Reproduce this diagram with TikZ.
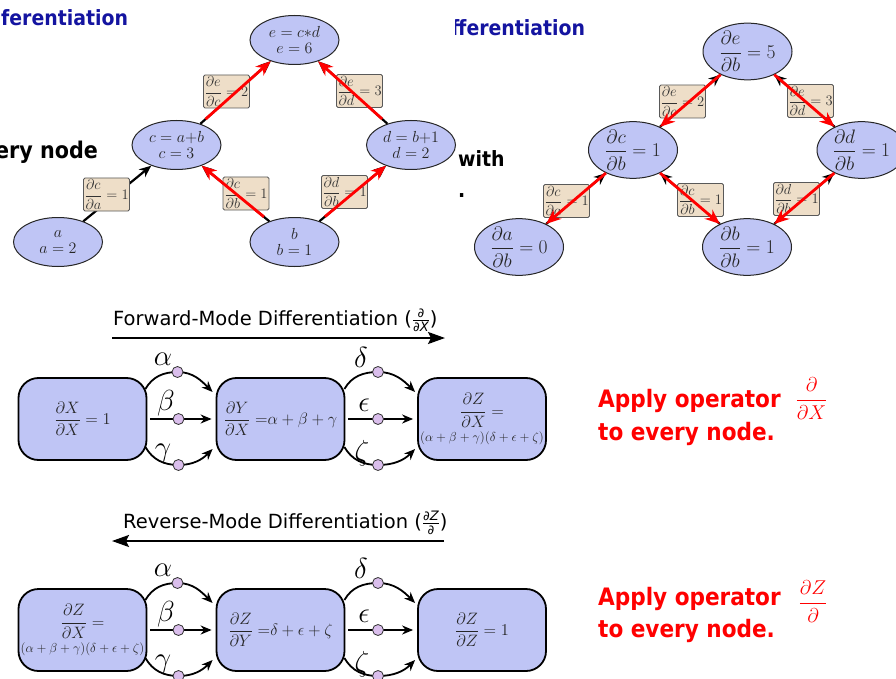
\RequirePackage{fix-cm}
\documentclass[tikz,border=0pt]{standalone}
\usepackage{amsmath}
\usepackage{fontspec}
\setmainfont{DejaVu Sans}
\newfontfamily\condfont{DejaVu Sans Condensed}
\usetikzlibrary{arrows.meta,shapes.geometric,calc}
\definecolor{nodeblue}{RGB}{191,197,245}
\definecolor{circpurple}{RGB}{218,190,236}
\definecolor{labtan}{RGB}{238,222,200}
\definecolor{titleblue}{RGB}{20,20,160}
\newcommand\tfr[1]{\text{\fontsize{13}{13}\selectfont\itshape #1}}
\begin{document}
\begin{tikzpicture}[x=1pt,y=1pt,
  ell/.style={ellipse, draw=black!85, line width=1pt, fill=nodeblue, minimum width=89pt, minimum height=49pt, inner sep=0pt, align=center, text=black!85, font=\fontsize{16}{16}\selectfont},
  ellr/.style={ell, font=\fontsize{19.5}{20}\selectfont},
  lab/.style={rectangle, rounded corners=1.5pt, draw=black!65, line width=0.9pt, fill=labtan, minimum width=46pt, minimum height=33pt, inner sep=0pt, text=black!80, font=\fontsize{14.5}{15}\selectfont},
  barr/.style={-{Stealth[length=12pt,width=10pt]}, line width=2.2pt, black},
  rarr/.style={-{Stealth[length=15pt,width=12pt]}, line width=2.8pt, red},
  mbox/.style={rectangle, rounded corners=20pt, draw=black, line width=1.8pt, fill=nodeblue, minimum width=128pt, minimum height=82pt, inner sep=0pt, align=center, text=black!85, font=\fontsize{16.5}{19}\selectfont},
  dotc/.style={circle, draw=black!80, line width=0.8pt, fill=circpurple, minimum size=11pt, inner sep=0pt},
  conn/.style={-{Stealth[length=11pt,width=9pt]}, line width=1.8pt},
  greek/.style={inner sep=0pt, font=\fontsize{29}{30}\selectfont},
  bigarr/.style={-{Stealth[length=17pt,width=12pt,inset=3pt]}, line width=2.2pt},
  frag/.style={inner sep=0pt, font=\condfont\bfseries\fontsize{21}{24}\selectfont},
  redt/.style={inner sep=0pt, text=red, font=\condfont\bfseries\fontsize{24}{26}\selectfont},
  ttl/.style={inner sep=0pt, font=\fontsize{19.5}{22}\selectfont}
]
\useasboundingbox (0,0) rectangle (896,-679);
\fill[white] (0,0) rectangle (896,-679);

% ---- cropped slide text fragments ----
\node[frag, text=titleblue, anchor=base west] (t1) at (1,-26) {ferentiation};
\begin{scope}
  \clip (455,0) rectangle (896,-60);
  \node[frag, text=titleblue, anchor=base west] (t2) at (451,-36) {fferentiation};
\end{scope}
\node[frag, font=\condfont\bfseries\fontsize{23}{24}\selectfont, anchor=base west] (t3) at (-5,-159) {ery node};
\node[frag, anchor=base west] (t4) at (458,-167) {with};
\node[frag, anchor=base west] (t5) at (458,-197) {.};

% ---- top-left graph ----
\node[ell] (e) at (294.5,-40) {$e=c{*}d$\\$e=6$};
\node[ell] (c) at (176.5,-145) {$c=a{+}b$\\$c=3$};
\node[ell] (d) at (411,-145) {$d=b{+}1$\\$d=2$};
\node[ell] (a) at (58,-242) {$a$\\$a=2$};
\node[ell] (b) at (294.5,-242) {$b$\\$b=1$};

\draw[barr] (a) -- (c);
\draw[barr] (b) -- (c);
\draw[barr] (b) -- (d);
\draw[barr] (c) -- (e);
\draw[barr] (d) -- (e);

\node[lab] (lca) at (106.5,-194.5) {$\dfrac{\partial c}{\partial a}=1$};
\node[lab] (lec) at (226.5,-91.5) {$\dfrac{\partial e}{\partial c}=2$};
\node[lab] (led) at (359.5,-91) {$\dfrac{\partial e}{\partial d}=3$};
\node[lab] (lcb) at (246,-193.5) {$\dfrac{\partial c}{\partial b}=1$};
\node[lab] (ldb) at (344.5,-192) {$\dfrac{\partial d}{\partial b}=1$};

\draw[rarr, shorten <=7pt] (b) -- (c);
\draw[rarr, shorten <=7pt] (b) -- (d);
\draw[rarr, shorten <=7pt] (c) -- (e);
\draw[rarr, shorten <=7pt] (d) -- (e);

% ---- top-right graph ----
\node[ellr] (E) at (747.5,-51.5) {$\dfrac{\partial e}{\partial b}=5$};
\node[ellr] (C) at (633,-150) {$\dfrac{\partial c}{\partial b}=1$};
\node[ellr] (D) at (861.5,-150) {$\dfrac{\partial d}{\partial b}=1$};
\node[ellr] (A) at (519,-247) {$\dfrac{\partial a}{\partial b}=0$};
\node[ellr] (B) at (747,-247) {$\dfrac{\partial b}{\partial b}=1$};

\draw[barr] (A) -- (C);
\draw[barr] (B) -- (C);
\draw[barr] (B) -- (D);
\draw[barr] (C) -- (E);
\draw[barr] (D) -- (E);

\node[lab] (Lec) at (682.5,-101.5) {$\dfrac{\partial e}{\partial c}=2$};
\node[lab] (Led) at (810.5,-101) {$\dfrac{\partial e}{\partial d}=3$};
\node[lab] (Lca) at (566.5,-201) {$\dfrac{\partial c}{\partial a}=1$};
\node[lab] (Lcb) at (700.5,-200) {$\dfrac{\partial c}{\partial b}=1$};
\node[lab] (Ldb) at (796.5,-199) {$\dfrac{\partial d}{\partial b}=1$};

\draw[rarr] (C) -- (A);
\draw[rarr] (C) -- (B);
\draw[rarr] (D) -- (B);
\draw[rarr] (E) -- (C);
\draw[rarr] (E) -- (D);

% ---- forward mode ----
\node[ttl, anchor=base west] (ftitle) at (113,-325) {Forward-Mode Differentiation ($\frac{\tfr{∂}}{\tfr{∂X}}$)};
\coordinate (fs) at (112,-338);
\coordinate (fend) at (445,-338);
\draw[bigarr] (fs) -- (fend);

\node[mbox] (f1) at (82.5,-419) {$\dfrac{\partial X}{\partial X}=1$};
\node[mbox] (f2) at (280.5,-419) {$\dfrac{\partial Y}{\partial X}\;{=}\alpha+\beta+\gamma$};
\node[mbox] (f3) at (482,-419) {$\dfrac{\partial Z}{\partial X}=$\\[3pt]{\fontsize{13}{14}\selectfont$(\alpha+\beta+\gamma)(\delta+\epsilon+\zeta)$}};

\coordinate (fa) at (177.5,-372);
\coordinate (fb) at (178.5,-419);
\coordinate (fg) at (178.5,-465);
\coordinate (fd) at (378,-372);
\coordinate (fe) at (378,-419);
\coordinate (fz) at (378,-465);

\draw[conn] ($(f1.east)+(-2,30)$) to[out=60,in=180] (fa) to[out=0,in=135] ($(f2.west)+(-3,27)$);
\draw[conn] ($(f1.east)+(3,0)$) -- ($(f2.west)+(-4,0)$);
\draw[conn] ($(f1.east)+(-2,-28)$) to[out=-60,in=180] (fg) to[out=0,in=-135] ($(f2.west)+(-3,-30)$);
\draw[conn] ($(f2.east)+(-1,30)$) to[out=60,in=180] (fd) to[out=0,in=135] ($(f3.west)+(-2,27)$);
\draw[conn] ($(f2.east)+(3,0)$) -- ($(f3.west)+(-4,0)$);
\draw[conn] ($(f2.east)+(-1,-28)$) to[out=-60,in=180] (fz) to[out=0,in=-135] ($(f3.west)+(-2,-30)$);

\node[dotc] (fad) at (fa) {};
\node[dotc] (fbd) at (fb) {};
\node[dotc] (fgd) at (fg) {};
\node[dotc] (fdd) at (fd) {};
\node[dotc] (fed) at (fe) {};
\node[dotc] (fzd) at (fz) {};

\node[greek] (fal) at (163,-359) {$\alpha$};
\node[greek] (fbl) at (166,-403) {$\beta$};
\node[greek] (fgl) at (163,-453) {$\gamma$};
\node[greek] (fdl) at (361,-357) {$\delta$};
\node[greek] (fel) at (364,-405) {$\epsilon$};
\node[greek] (fzl) at (362,-453) {$\zeta$};

% ---- reverse mode ----
\node[ttl, anchor=base west] (rtitle) at (123,-528) {Reverse-Mode Differentiation ($\frac{\tfr{∂Z}}{\tfr{∂}}$)};
\coordinate (rs) at (444,-541);
\coordinate (rend) at (112,-541);
\draw[bigarr] (rs) -- (rend);

\node[mbox] (r1) at (82.5,-630) {$\dfrac{\partial Z}{\partial X}=$\\[3pt]{\fontsize{13}{14}\selectfont$(\alpha+\beta+\gamma)(\delta+\epsilon+\zeta)$}};
\node[mbox] (r2) at (280.5,-630) {$\dfrac{\partial Z}{\partial Y}\;{=}\delta+\epsilon+\zeta$};
\node[mbox] (r3) at (482,-630) {$\dfrac{\partial Z}{\partial Z}=1$};

\coordinate (ra) at (177.5,-583);
\coordinate (rb) at (178.5,-630);
\coordinate (rg) at (178.5,-676);
\coordinate (rd) at (378,-583);
\coordinate (re) at (378,-630);
\coordinate (rz) at (378,-676);

\draw[conn] ($(r1.east)+(-2,30)$) to[out=60,in=180] (ra) to[out=0,in=135] ($(r2.west)+(-3,27)$);
\draw[conn] ($(r1.east)+(3,0)$) -- ($(r2.west)+(-4,0)$);
\draw[conn] ($(r1.east)+(-2,-28)$) to[out=-60,in=180] (rg) to[out=0,in=-135] ($(r2.west)+(-3,-30)$);
\draw[conn] ($(r2.east)+(-1,30)$) to[out=60,in=180] (rd) to[out=0,in=135] ($(r3.west)+(-2,27)$);
\draw[conn] ($(r2.east)+(3,0)$) -- ($(r3.west)+(-4,0)$);
\draw[conn] ($(r2.east)+(-1,-28)$) to[out=-60,in=180] (rz) to[out=0,in=-135] ($(r3.west)+(-2,-30)$);

\node[dotc] (rad) at (ra) {};
\node[dotc] (rbd) at (rb) {};
\node[dotc] (rgd) at (rg) {};
\node[dotc] (rdd) at (rd) {};
\node[dotc] (red) at (re) {};
\node[dotc] (rzd) at (rz) {};

\node[greek] (ral) at (163,-570) {$\alpha$};
\node[greek] (rbl) at (166,-614) {$\beta$};
\node[greek] (rgl) at (163,-664) {$\gamma$};
\node[greek] (rdl) at (361,-568) {$\delta$};
\node[greek] (rel) at (364,-616) {$\epsilon$};
\node[greek] (rzl) at (362,-664) {$\zeta$};

% ---- red notes ----
\node[redt, anchor=base west] (ap1) at (598,-407) {Apply operator};
\node[inner sep=0pt, text=red, font=\fontsize{20}{22}\selectfont] (op1) at (811.5,-398.5) {$\dfrac{\partial}{\partial X}$};
\node[redt, anchor=base west] (tn1) at (598,-440) {to every node.};
\node[redt, anchor=base west] (ap2) at (598,-605) {Apply operator};
\node[inner sep=0pt, text=red, font=\fontsize{20}{22}\selectfont] (op2) at (813,-601.5) {$\dfrac{\partial Z}{\partial}$};
\node[redt, anchor=base west] (tn2) at (598,-637) {to every node.};
\end{tikzpicture}
\end{document}
